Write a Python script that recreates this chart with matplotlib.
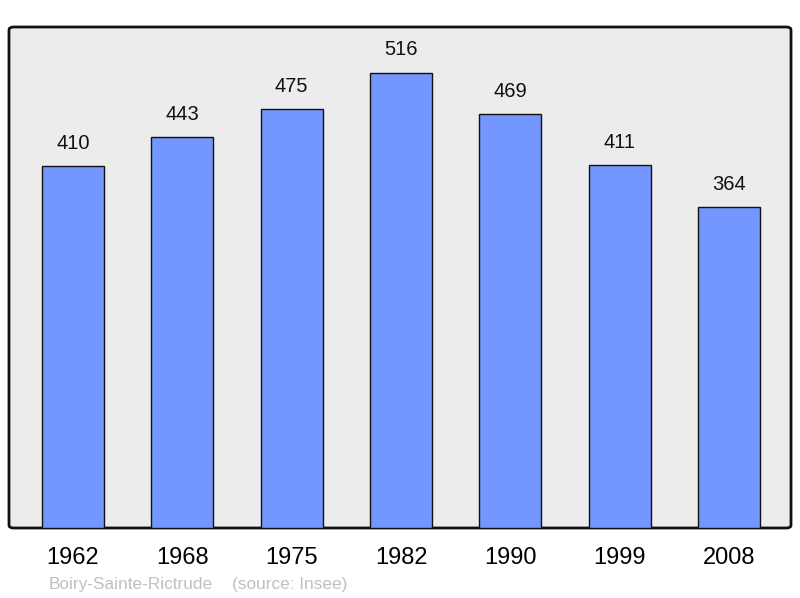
import matplotlib.pyplot as plt
from matplotlib.patches import FancyBboxPatch

years = ['1962', '1968', '1975', '1982', '1990', '1999', '2008']
population = [410, 443, 475, 516, 469, 411, 364]

plt.rcParams['font.family'] = ['Liberation Sans', 'DejaVu Sans']

fig = plt.figure(figsize=(8, 5.98), dpi=100)
# axes frame in pixels: left 9, top 27, right 791, bottom 528
ax = fig.add_axes([9 / 800, 1 - 528 / 598, 782 / 800, 501 / 598])
ax.set_facecolor('none')

# rounded background frame
frame = FancyBboxPatch((0, 0), 1, 1, boxstyle='round,pad=0,rounding_size=0.006',
                       transform=ax.transAxes, facecolor='#ececec',
                       edgecolor='#111111', linewidth=2, zorder=0, clip_on=False)
ax.add_patch(frame)

x = range(len(years))
ax.bar(x, population, width=0.567, color='#7396ff', edgecolor='#111111',
       linewidth=1, zorder=2)

for xi, v in zip(x, population):
    ax.text(xi, v + 26, str(v), ha='center', va='center', fontsize=14.5,
            color='#111111')

ax.set_xlim(-0.585, 6.565)
ax.set_ylim(0, 568)
for s in ax.spines.values():
    s.set_visible(False)
ax.set_yticks([])
ax.set_xticks(list(x))
ax.set_xticklabels(years, fontsize=17)
ax.tick_params(axis='x', length=0, pad=14)

fig.text(49 / 800, 1 - 584 / 598, 'Boiry-Sainte-Rictrude', fontsize=12.4,
         color='#c0c0c0', ha='left', va='center')
fig.text(232 / 800, 1 - 584 / 598, '(source: Insee)', fontsize=12.4,
         color='#c0c0c0', ha='left', va='center')

fig.savefig('out.png', dpi=100)
